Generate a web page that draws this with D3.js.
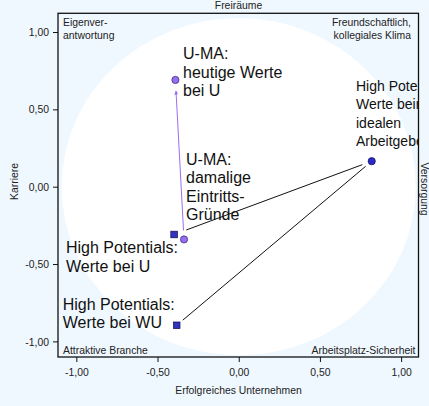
<!DOCTYPE html>
<html><head><meta charset="utf-8">
<script src="https://cdn.jsdelivr.net/npm/d3@7"></script>
<style>html,body{margin:0;padding:0;background:#F0F8FF;}svg{display:block;font-family:"Liberation Sans",Arial,sans-serif;}</style>
</head><body>
<script>
// Data
const pointNames = ["U-MA heutige","U-MA damalige","HP bei U","HP bei WU","HP ideal"];
const pointX = [-0.39, -0.337, -0.398, -0.382, 0.819];
const pointY = [0.69, -0.341, -0.309, -0.896, 0.165];
const pointShape = ["circle","circle","square","square","circle"];
const pointGroup = ["uma","uma","hp","hp","ideal"];
const labelLines = [
  ["U-MA:","heutige Werte","bei U"],
  ["U-MA:","damalige","Eintritts-","Gründe"],
  ["High Potentials:","Werte bei U"],
  ["High Potentials:","Werte bei WU"],
  ["High Potentials:","Werte beim","idealen","Arbeitgeber:"]
];
const connections = [[4,2],[4,3]];
const arrows = [[1,0]];
const xTicks = [-1,-0.5,0,0.5,1];
const yTicks = [-1,-0.5,0,0.5,1];
const cornerTop = ["Freiräume"];
const cornerTL = ["Eigenver-","antwortung"];
const cornerTR = ["Freundschaftlich,","kollegiales Klima"];
const cornerBL = ["Attraktive Branche"];
const cornerBR = ["Arbeitsplatz-Sicherheit"];
const xTitle = "Erfolgreiches Unternehmen";
const yTitle = "Karriere";
const rightTitle = "Versorgung";

const W=429,H=406;
const L=58,R=418.5,T=13.3,B=357;
const x=d3.scaleLinear().domain([-1.113,1.107]).range([L,R]);
const y=d3.scaleLinear().domain([-1.101,1.121]).range([B,T]);
const fmt=d=>d3.format(".2f")(d).replace(".",",").replace("−","-");

const svg=d3.select("body").append("svg").attr("width",W).attr("height",H);
svg.append("rect").attr("width",W).attr("height",H).attr("fill","#F0F8FF");
const defs=svg.append("defs");
defs.append("clipPath").attr("id","clip").append("rect").attr("x",L).attr("y",T).attr("width",R-L).attr("height",B-T);
defs.append("marker").attr("id","arr").attr("viewBox","0 0 10 10").attr("refX",9).attr("refY",5)
  .attr("markerWidth",4).attr("markerHeight",4).attr("orient","auto")
  .append("path").attr("d","M0,0L10,5L0,10z").attr("fill","#9a70f0");

const g=svg.append("g").attr("clip-path","url(#clip)");
// white circle
g.append("ellipse").attr("cx",x(0)).attr("cy",y(0))
  .attr("rx",x(1.09)-x(0)).attr("ry",y(0)-y(1.09)).attr("fill","#ffffff");

function seg(a,b,s0,s1){
  const x1=x(pointX[a]),y1=y(pointY[a]),x2=x(pointX[b]),y2=y(pointY[b]);
  const dx=x2-x1,dy=y2-y1,len=Math.hypot(dx,dy);
  return [x1+dx/len*s0,y1+dy/len*s0,x2-dx/len*s1,y2-dy/len*s1];
}
connections.forEach((c,i)=>{
  const s=seg(c[0],c[1],i===0?10:8,i===0?13:8);
  g.append("line").attr("x1",s[0]).attr("y1",s[1]).attr("x2",s[2]).attr("y2",s[3])
   .attr("stroke","#111").attr("stroke-width",1);
});
arrows.forEach(c=>{
  const s=seg(c[0],c[1],9,11);
  g.append("line").attr("x1",s[0]).attr("y1",s[1]).attr("x2",s[2]).attr("y2",s[3])
   .attr("stroke","#9a70f0").attr("stroke-width",1).attr("marker-end","url(#arr)");
});

// labels
const labelPos=[[183,59],[186,164.7],[66,252.5],[62.7,309.5],[356,91]];
const lh=[18.6,18.5,19.2,18.8,18.4];
const lfs=[16,16,16,16,14];
labelLines.forEach((lines,i)=>{
  const t=g.append("text").attr("font-size",lfs[i]).attr("fill","#111");
  lines.forEach((s,j)=>t.append("tspan").attr("x",labelPos[i][0]).attr("y",labelPos[i][1]+j*lh[i]).text(s));
});

// points
const fills={uma:"#9370ee",hp:"#3333c0",ideal:"#2a2acc"};
const strokes={uma:"#3a2070",hp:"#101050",ideal:"#101050"};
pointNames.forEach((n,i)=>{
  const cx=x(pointX[i]),cy=y(pointY[i]),grp=pointGroup[i];
  if(pointShape[i]==="circle"){
    g.append("circle").attr("cx",cx).attr("cy",cy).attr("r",3.6)
     .attr("fill",fills[grp]).attr("stroke",strokes[grp]).attr("stroke-width",0.7);
  } else {
    g.append("rect").attr("x",cx-3.3).attr("y",cy-3.3).attr("width",6.6).attr("height",6.6)
     .attr("fill",fills[grp]).attr("stroke",strokes[grp]).attr("stroke-width",0.7);
  }
});

// corner texts
function txt(lines,xx,yy,anchor,size){
  const t=svg.append("text").attr("font-size",size||10.4).attr("fill","#222").attr("text-anchor",anchor||"start");
  lines.forEach((s,j)=>t.append("tspan").attr("x",xx).attr("y",yy+j*12.8).text(s));
}
txt(cornerTop,238.5,8.5,"middle");
txt(cornerTL,63,26.2,"start");
txt(cornerTR,411,26.2,"end");
txt(cornerBL,63,354,"start");
txt(cornerBR,415.5,354,"end");

// frame
svg.append("rect").attr("x",L).attr("y",T).attr("width",R-L).attr("height",B-T)
  .attr("fill","none").attr("stroke","#111").attr("stroke-width",1.3);

// axes
const xa=svg.append("g").attr("transform",`translate(0,${B})`)
  .call(d3.axisBottom(x).tickValues(xTicks).tickFormat(fmt).tickSize(5).tickSizeOuter(0));
const ya=svg.append("g").attr("transform",`translate(${L},0)`)
  .call(d3.axisLeft(y).tickValues(yTicks).tickFormat(fmt).tickSize(5).tickSizeOuter(0));
[xa,ya].forEach(a=>{
  a.select(".domain").remove();
  a.selectAll("line").attr("stroke","#111");
  a.selectAll("text").attr("font-size",10.4).attr("fill","#222").attr("font-family","Liberation Sans, Arial, sans-serif");
});
xa.selectAll("text").attr("dy",null).attr("y",18.7);
ya.selectAll("text").attr("x",-9).attr("dy","0.35em");

svg.append("text").attr("x",238.5).attr("y",394.3).attr("text-anchor","middle").attr("font-size",10.4).attr("fill","#222").text(xTitle);
svg.append("text").attr("transform","translate(17.5,181.5) rotate(-90)").attr("text-anchor","middle").attr("font-size",10.4).attr("fill","#222").text(yTitle);
svg.append("text").attr("transform","translate(421,189) rotate(90)").attr("text-anchor","middle").attr("font-size",10.4).attr("fill","#222").text(rightTitle);
</script>
</body></html>
